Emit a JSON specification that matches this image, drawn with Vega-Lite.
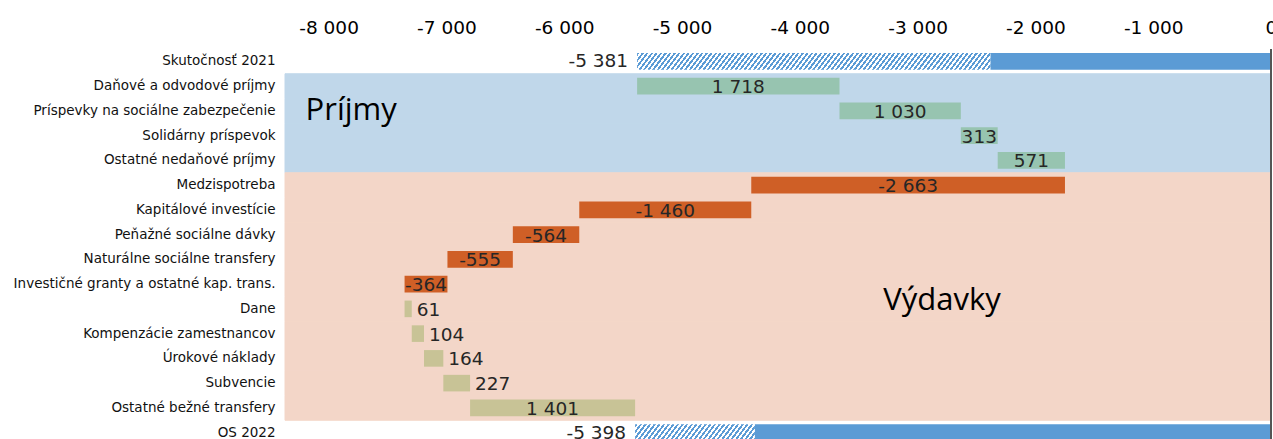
{
 "$schema": "https://vega.github.io/schema/vega-lite/v6.json",
 "autosize": "none",
 "width": 986,
 "height": 396,
 "padding": {"left": 285, "top": 49, "right": 2, "bottom": 0},
 "background": "#ffffff",
 "config": {
  "view": {"stroke": null},
  "locale": {"number": {"decimal": ",", "thousands": " ", "grouping": [3], "currency": ["", " €"], "minus": "-"}}
 },
 "resolve": {"scale": {"color": "independent", "stroke": "independent"}},
 "datasets": {
  "steps": [
   {"category": "Skutočnosť 2021", "section": "Súhrn", "kind": "total", "value": -5381, "start": 0, "end": -5381},
   {"category": "Daňové a odvodové  príjmy", "section": "Príjmy", "kind": "revenue", "value": 1718, "start": -5381, "end": -3663},
   {"category": "Príspevky na sociálne zabezpečenie", "section": "Príjmy", "kind": "revenue", "value": 1030, "start": -3663, "end": -2633},
   {"category": "Solidárny príspevok", "section": "Príjmy", "kind": "revenue", "value": 313, "start": -2633, "end": -2320},
   {"category": "Ostatné nedaňové príjmy", "section": "Príjmy", "kind": "revenue", "value": 571, "start": -2320, "end": -1749},
   {"category": "Medzispotreba", "section": "Výdavky", "kind": "expense", "value": -2663, "start": -1749, "end": -4412},
   {"category": "Kapitálové investície", "section": "Výdavky", "kind": "expense", "value": -1460, "start": -4412, "end": -5872},
   {"category": "Peňažné sociálne dávky", "section": "Výdavky", "kind": "expense", "value": -564, "start": -5872, "end": -6436},
   {"category": "Naturálne sociálne transfery", "section": "Výdavky", "kind": "expense", "value": -555, "start": -6436, "end": -6991},
   {"category": "Investičné granty a ostatné kap. trans.", "section": "Výdavky", "kind": "expense", "value": -364, "start": -6991, "end": -7355},
   {"category": "Dane", "section": "Výdavky", "kind": "reduction", "value": 61, "start": -7355, "end": -7294},
   {"category": "Kompenzácie zamestnancov", "section": "Výdavky", "kind": "reduction", "value": 104, "start": -7294, "end": -7190},
   {"category": "Úrokové náklady", "section": "Výdavky", "kind": "reduction", "value": 164, "start": -7190, "end": -7026},
   {"category": "Subvencie", "section": "Výdavky", "kind": "reduction", "value": 227, "start": -7026, "end": -6799},
   {"category": "Ostatné bežné transfery", "section": "Výdavky", "kind": "reduction", "value": 1401, "start": -6799, "end": -5398},
   {"category": "OS 2022", "section": "Súhrn", "kind": "total", "value": -5398, "start": 0, "end": -5398}
  ],
  "segments": [
   {"category": "Skutočnosť 2021", "part": "hatched", "from": -5381, "to": -2381},
   {"category": "Skutočnosť 2021", "part": "solid", "from": -2381, "to": 0},
   {"category": "OS 2022", "part": "hatched", "from": -5398, "to": -4381},
   {"category": "OS 2022", "part": "solid", "from": -4381, "to": 0}
  ]
 },
 "layer": [
  {
   "data": {"name": "steps"},
   "transform": [{"filter": "datum.kind != 'total'"}],
   "mark": {"type": "bar", "strokeWidth": 1},
   "encoding": {
    "x": {"datum": -8370, "type": "quantitative", "scale": {"domain": [-8370, 0], "nice": false, "zero": false},
     "axis": {"orient": "top", "title": null, "values": [-8000, -7000, -6000, -5000, -4000, -3000, -2000, -1000, 0], "format": ",.0f", "grid": false, "ticks": false, "domain": false, "labelPadding": 12, "labelFont": "DejaVu Sans", "labelFontSize": 18.5, "labelColor": "#000000", "labelFlush": false, "labelOverlap": false}},
    "x2": {"datum": 0},
    "y": {"field": "category", "type": "nominal", "sort": null,
     "scale": {"domain": ["Skutočnosť 2021", "Daňové a odvodové  príjmy", "Príspevky na sociálne zabezpečenie", "Solidárny príspevok", "Ostatné nedaňové príjmy", "Medzispotreba", "Kapitálové investície", "Peňažné sociálne dávky", "Naturálne sociálne transfery", "Investičné granty a ostatné kap. trans.", "Dane", "Kompenzácie zamestnancov", "Úrokové náklady", "Subvencie", "Ostatné bežné transfery", "OS 2022"], "paddingInner": 0, "paddingOuter": 0},
     "axis": {"title": null, "ticks": false, "domain": false, "grid": false, "labelPadding": 10, "labelFont": "DejaVu Sans", "labelFontSize": 13.5, "labelColor": "#111111", "labelLimit": 400}},
    "color": {"field": "section", "type": "nominal", "scale": {"domain": ["Príjmy", "Výdavky"], "range": ["#c0d7ea", "#f3d6c8"]}, "legend": null},
    "stroke": {"field": "section", "type": "nominal", "scale": {"domain": ["Príjmy", "Výdavky"], "range": ["#c0d7ea", "#f3d6c8"]}, "legend": null}
   }
  },
  {
   "data": {"name": "steps"},
   "transform": [{"filter": "datum.kind != 'total'"}],
   "mark": {"type": "bar", "height": {"band": 0.67}},
   "encoding": {
    "x": {"field": "start", "type": "quantitative", "scale": {"domain": [-8370, 0], "nice": false, "zero": false},
     "axis": {"orient": "top", "title": null, "values": [-8000, -7000, -6000, -5000, -4000, -3000, -2000, -1000, 0], "format": ",.0f", "grid": false, "ticks": false, "domain": false, "labelPadding": 12, "labelFont": "DejaVu Sans", "labelFontSize": 18.5, "labelColor": "#000000", "labelFlush": false, "labelOverlap": false}},
    "x2": {"field": "end"},
    "y": {"field": "category", "type": "nominal", "sort": null,
     "axis": {"title": null, "ticks": false, "domain": false, "grid": false, "labelPadding": 10, "labelFont": "DejaVu Sans", "labelFontSize": 13.5, "labelColor": "#111111", "labelLimit": 400}},
    "color": {"field": "kind", "type": "nominal", "scale": {"domain": ["revenue", "expense", "reduction"], "range": ["#97c4b0", "#cf5f26", "#c8c396"]}, "legend": null}
   }
  },
  {
   "data": {"name": "segments"},
   "transform": [{"filter": "datum.part == 'hatched' && datum.category == 'Skutočnosť 2021'"}],
   "mark": {"type": "bar", "height": {"band": 0.67}, "fill": {"gradient": "linear", "x1": 0, "y1": 0, "x2": 1.034, "y2": 0.0364, "stops": [
{"offset":0,"color":"#5b9bd5"},{"offset":0.00625,"color":"#5b9bd5"},{"offset":0.00625,"color":"#fff"},{"offset":0.0125,"color":"#fff"},{"offset":0.0125,"color":"#5b9bd5"},{"offset":0.01875,"color":"#5b9bd5"},{"offset":0.01875,"color":"#fff"},{"offset":0.025,"color":"#fff"},{"offset":0.025,"color":"#5b9bd5"},{"offset":0.03125,"color":"#5b9bd5"},{"offset":0.03125,"color":"#fff"},{"offset":0.0375,"color":"#fff"},{"offset":0.0375,"color":"#5b9bd5"},{"offset":0.04375,"color":"#5b9bd5"},{"offset":0.04375,"color":"#fff"},{"offset":0.05,"color":"#fff"},{"offset":0.05,"color":"#5b9bd5"},{"offset":0.05625,"color":"#5b9bd5"},{"offset":0.05625,"color":"#fff"},{"offset":0.0625,"color":"#fff"},{"offset":0.0625,"color":"#5b9bd5"},{"offset":0.06875,"color":"#5b9bd5"},{"offset":0.06875,"color":"#fff"},{"offset":0.075,"color":"#fff"},{"offset":0.075,"color":"#5b9bd5"},{"offset":0.08125,"color":"#5b9bd5"},{"offset":0.08125,"color":"#fff"},{"offset":0.0875,"color":"#fff"},{"offset":0.0875,"color":"#5b9bd5"},{"offset":0.09375,"color":"#5b9bd5"},{"offset":0.09375,"color":"#fff"},{"offset":0.1,"color":"#fff"},
{"offset":0.1,"color":"#5b9bd5"},{"offset":0.10625,"color":"#5b9bd5"},{"offset":0.10625,"color":"#fff"},{"offset":0.1125,"color":"#fff"},{"offset":0.1125,"color":"#5b9bd5"},{"offset":0.11875,"color":"#5b9bd5"},{"offset":0.11875,"color":"#fff"},{"offset":0.125,"color":"#fff"},{"offset":0.125,"color":"#5b9bd5"},{"offset":0.13125,"color":"#5b9bd5"},{"offset":0.13125,"color":"#fff"},{"offset":0.1375,"color":"#fff"},{"offset":0.1375,"color":"#5b9bd5"},{"offset":0.14375,"color":"#5b9bd5"},{"offset":0.14375,"color":"#fff"},{"offset":0.15,"color":"#fff"},{"offset":0.15,"color":"#5b9bd5"},{"offset":0.15625,"color":"#5b9bd5"},{"offset":0.15625,"color":"#fff"},{"offset":0.1625,"color":"#fff"},{"offset":0.1625,"color":"#5b9bd5"},{"offset":0.16875,"color":"#5b9bd5"},{"offset":0.16875,"color":"#fff"},{"offset":0.175,"color":"#fff"},{"offset":0.175,"color":"#5b9bd5"},{"offset":0.18125,"color":"#5b9bd5"},{"offset":0.18125,"color":"#fff"},{"offset":0.1875,"color":"#fff"},{"offset":0.1875,"color":"#5b9bd5"},{"offset":0.19375,"color":"#5b9bd5"},{"offset":0.19375,"color":"#fff"},{"offset":0.2,"color":"#fff"},
{"offset":0.2,"color":"#5b9bd5"},{"offset":0.20625,"color":"#5b9bd5"},{"offset":0.20625,"color":"#fff"},{"offset":0.2125,"color":"#fff"},{"offset":0.2125,"color":"#5b9bd5"},{"offset":0.21875,"color":"#5b9bd5"},{"offset":0.21875,"color":"#fff"},{"offset":0.225,"color":"#fff"},{"offset":0.225,"color":"#5b9bd5"},{"offset":0.23125,"color":"#5b9bd5"},{"offset":0.23125,"color":"#fff"},{"offset":0.2375,"color":"#fff"},{"offset":0.2375,"color":"#5b9bd5"},{"offset":0.24375,"color":"#5b9bd5"},{"offset":0.24375,"color":"#fff"},{"offset":0.25,"color":"#fff"},{"offset":0.25,"color":"#5b9bd5"},{"offset":0.25625,"color":"#5b9bd5"},{"offset":0.25625,"color":"#fff"},{"offset":0.2625,"color":"#fff"},{"offset":0.2625,"color":"#5b9bd5"},{"offset":0.26875,"color":"#5b9bd5"},{"offset":0.26875,"color":"#fff"},{"offset":0.275,"color":"#fff"},{"offset":0.275,"color":"#5b9bd5"},{"offset":0.28125,"color":"#5b9bd5"},{"offset":0.28125,"color":"#fff"},{"offset":0.2875,"color":"#fff"},{"offset":0.2875,"color":"#5b9bd5"},{"offset":0.29375,"color":"#5b9bd5"},{"offset":0.29375,"color":"#fff"},{"offset":0.3,"color":"#fff"},
{"offset":0.3,"color":"#5b9bd5"},{"offset":0.30625,"color":"#5b9bd5"},{"offset":0.30625,"color":"#fff"},{"offset":0.3125,"color":"#fff"},{"offset":0.3125,"color":"#5b9bd5"},{"offset":0.31875,"color":"#5b9bd5"},{"offset":0.31875,"color":"#fff"},{"offset":0.325,"color":"#fff"},{"offset":0.325,"color":"#5b9bd5"},{"offset":0.33125,"color":"#5b9bd5"},{"offset":0.33125,"color":"#fff"},{"offset":0.3375,"color":"#fff"},{"offset":0.3375,"color":"#5b9bd5"},{"offset":0.34375,"color":"#5b9bd5"},{"offset":0.34375,"color":"#fff"},{"offset":0.35,"color":"#fff"},{"offset":0.35,"color":"#5b9bd5"},{"offset":0.35625,"color":"#5b9bd5"},{"offset":0.35625,"color":"#fff"},{"offset":0.3625,"color":"#fff"},{"offset":0.3625,"color":"#5b9bd5"},{"offset":0.36875,"color":"#5b9bd5"},{"offset":0.36875,"color":"#fff"},{"offset":0.375,"color":"#fff"},{"offset":0.375,"color":"#5b9bd5"},{"offset":0.38125,"color":"#5b9bd5"},{"offset":0.38125,"color":"#fff"},{"offset":0.3875,"color":"#fff"},{"offset":0.3875,"color":"#5b9bd5"},{"offset":0.39375,"color":"#5b9bd5"},{"offset":0.39375,"color":"#fff"},{"offset":0.4,"color":"#fff"},
{"offset":0.4,"color":"#5b9bd5"},{"offset":0.40625,"color":"#5b9bd5"},{"offset":0.40625,"color":"#fff"},{"offset":0.4125,"color":"#fff"},{"offset":0.4125,"color":"#5b9bd5"},{"offset":0.41875,"color":"#5b9bd5"},{"offset":0.41875,"color":"#fff"},{"offset":0.425,"color":"#fff"},{"offset":0.425,"color":"#5b9bd5"},{"offset":0.43125,"color":"#5b9bd5"},{"offset":0.43125,"color":"#fff"},{"offset":0.4375,"color":"#fff"},{"offset":0.4375,"color":"#5b9bd5"},{"offset":0.44375,"color":"#5b9bd5"},{"offset":0.44375,"color":"#fff"},{"offset":0.45,"color":"#fff"},{"offset":0.45,"color":"#5b9bd5"},{"offset":0.45625,"color":"#5b9bd5"},{"offset":0.45625,"color":"#fff"},{"offset":0.4625,"color":"#fff"},{"offset":0.4625,"color":"#5b9bd5"},{"offset":0.46875,"color":"#5b9bd5"},{"offset":0.46875,"color":"#fff"},{"offset":0.475,"color":"#fff"},{"offset":0.475,"color":"#5b9bd5"},{"offset":0.48125,"color":"#5b9bd5"},{"offset":0.48125,"color":"#fff"},{"offset":0.4875,"color":"#fff"},{"offset":0.4875,"color":"#5b9bd5"},{"offset":0.49375,"color":"#5b9bd5"},{"offset":0.49375,"color":"#fff"},{"offset":0.5,"color":"#fff"},
{"offset":0.5,"color":"#5b9bd5"},{"offset":0.50625,"color":"#5b9bd5"},{"offset":0.50625,"color":"#fff"},{"offset":0.5125,"color":"#fff"},{"offset":0.5125,"color":"#5b9bd5"},{"offset":0.51875,"color":"#5b9bd5"},{"offset":0.51875,"color":"#fff"},{"offset":0.525,"color":"#fff"},{"offset":0.525,"color":"#5b9bd5"},{"offset":0.53125,"color":"#5b9bd5"},{"offset":0.53125,"color":"#fff"},{"offset":0.5375,"color":"#fff"},{"offset":0.5375,"color":"#5b9bd5"},{"offset":0.54375,"color":"#5b9bd5"},{"offset":0.54375,"color":"#fff"},{"offset":0.55,"color":"#fff"},{"offset":0.55,"color":"#5b9bd5"},{"offset":0.55625,"color":"#5b9bd5"},{"offset":0.55625,"color":"#fff"},{"offset":0.5625,"color":"#fff"},{"offset":0.5625,"color":"#5b9bd5"},{"offset":0.56875,"color":"#5b9bd5"},{"offset":0.56875,"color":"#fff"},{"offset":0.575,"color":"#fff"},{"offset":0.575,"color":"#5b9bd5"},{"offset":0.58125,"color":"#5b9bd5"},{"offset":0.58125,"color":"#fff"},{"offset":0.5875,"color":"#fff"},{"offset":0.5875,"color":"#5b9bd5"},{"offset":0.59375,"color":"#5b9bd5"},{"offset":0.59375,"color":"#fff"},{"offset":0.6,"color":"#fff"},
{"offset":0.6,"color":"#5b9bd5"},{"offset":0.60625,"color":"#5b9bd5"},{"offset":0.60625,"color":"#fff"},{"offset":0.6125,"color":"#fff"},{"offset":0.6125,"color":"#5b9bd5"},{"offset":0.61875,"color":"#5b9bd5"},{"offset":0.61875,"color":"#fff"},{"offset":0.625,"color":"#fff"},{"offset":0.625,"color":"#5b9bd5"},{"offset":0.63125,"color":"#5b9bd5"},{"offset":0.63125,"color":"#fff"},{"offset":0.6375,"color":"#fff"},{"offset":0.6375,"color":"#5b9bd5"},{"offset":0.64375,"color":"#5b9bd5"},{"offset":0.64375,"color":"#fff"},{"offset":0.65,"color":"#fff"},{"offset":0.65,"color":"#5b9bd5"},{"offset":0.65625,"color":"#5b9bd5"},{"offset":0.65625,"color":"#fff"},{"offset":0.6625,"color":"#fff"},{"offset":0.6625,"color":"#5b9bd5"},{"offset":0.66875,"color":"#5b9bd5"},{"offset":0.66875,"color":"#fff"},{"offset":0.675,"color":"#fff"},{"offset":0.675,"color":"#5b9bd5"},{"offset":0.68125,"color":"#5b9bd5"},{"offset":0.68125,"color":"#fff"},{"offset":0.6875,"color":"#fff"},{"offset":0.6875,"color":"#5b9bd5"},{"offset":0.69375,"color":"#5b9bd5"},{"offset":0.69375,"color":"#fff"},{"offset":0.7,"color":"#fff"},
{"offset":0.7,"color":"#5b9bd5"},{"offset":0.70625,"color":"#5b9bd5"},{"offset":0.70625,"color":"#fff"},{"offset":0.7125,"color":"#fff"},{"offset":0.7125,"color":"#5b9bd5"},{"offset":0.71875,"color":"#5b9bd5"},{"offset":0.71875,"color":"#fff"},{"offset":0.725,"color":"#fff"},{"offset":0.725,"color":"#5b9bd5"},{"offset":0.73125,"color":"#5b9bd5"},{"offset":0.73125,"color":"#fff"},{"offset":0.7375,"color":"#fff"},{"offset":0.7375,"color":"#5b9bd5"},{"offset":0.74375,"color":"#5b9bd5"},{"offset":0.74375,"color":"#fff"},{"offset":0.75,"color":"#fff"},{"offset":0.75,"color":"#5b9bd5"},{"offset":0.75625,"color":"#5b9bd5"},{"offset":0.75625,"color":"#fff"},{"offset":0.7625,"color":"#fff"},{"offset":0.7625,"color":"#5b9bd5"},{"offset":0.76875,"color":"#5b9bd5"},{"offset":0.76875,"color":"#fff"},{"offset":0.775,"color":"#fff"},{"offset":0.775,"color":"#5b9bd5"},{"offset":0.78125,"color":"#5b9bd5"},{"offset":0.78125,"color":"#fff"},{"offset":0.7875,"color":"#fff"},{"offset":0.7875,"color":"#5b9bd5"},{"offset":0.79375,"color":"#5b9bd5"},{"offset":0.79375,"color":"#fff"},{"offset":0.8,"color":"#fff"},
{"offset":0.8,"color":"#5b9bd5"},{"offset":0.80625,"color":"#5b9bd5"},{"offset":0.80625,"color":"#fff"},{"offset":0.8125,"color":"#fff"},{"offset":0.8125,"color":"#5b9bd5"},{"offset":0.81875,"color":"#5b9bd5"},{"offset":0.81875,"color":"#fff"},{"offset":0.825,"color":"#fff"},{"offset":0.825,"color":"#5b9bd5"},{"offset":0.83125,"color":"#5b9bd5"},{"offset":0.83125,"color":"#fff"},{"offset":0.8375,"color":"#fff"},{"offset":0.8375,"color":"#5b9bd5"},{"offset":0.84375,"color":"#5b9bd5"},{"offset":0.84375,"color":"#fff"},{"offset":0.85,"color":"#fff"},{"offset":0.85,"color":"#5b9bd5"},{"offset":0.85625,"color":"#5b9bd5"},{"offset":0.85625,"color":"#fff"},{"offset":0.8625,"color":"#fff"},{"offset":0.8625,"color":"#5b9bd5"},{"offset":0.86875,"color":"#5b9bd5"},{"offset":0.86875,"color":"#fff"},{"offset":0.875,"color":"#fff"},{"offset":0.875,"color":"#5b9bd5"},{"offset":0.88125,"color":"#5b9bd5"},{"offset":0.88125,"color":"#fff"},{"offset":0.8875,"color":"#fff"},{"offset":0.8875,"color":"#5b9bd5"},{"offset":0.89375,"color":"#5b9bd5"},{"offset":0.89375,"color":"#fff"},{"offset":0.9,"color":"#fff"},
{"offset":0.9,"color":"#5b9bd5"},{"offset":0.90625,"color":"#5b9bd5"},{"offset":0.90625,"color":"#fff"},{"offset":0.9125,"color":"#fff"},{"offset":0.9125,"color":"#5b9bd5"},{"offset":0.91875,"color":"#5b9bd5"},{"offset":0.91875,"color":"#fff"},{"offset":0.925,"color":"#fff"},{"offset":0.925,"color":"#5b9bd5"},{"offset":0.93125,"color":"#5b9bd5"},{"offset":0.93125,"color":"#fff"},{"offset":0.9375,"color":"#fff"},{"offset":0.9375,"color":"#5b9bd5"},{"offset":0.94375,"color":"#5b9bd5"},{"offset":0.94375,"color":"#fff"},{"offset":0.95,"color":"#fff"},{"offset":0.95,"color":"#5b9bd5"},{"offset":0.95625,"color":"#5b9bd5"},{"offset":0.95625,"color":"#fff"},{"offset":0.9625,"color":"#fff"},{"offset":0.9625,"color":"#5b9bd5"},{"offset":0.96875,"color":"#5b9bd5"},{"offset":0.96875,"color":"#fff"},{"offset":0.975,"color":"#fff"},{"offset":0.975,"color":"#5b9bd5"},{"offset":0.98125,"color":"#5b9bd5"},{"offset":0.98125,"color":"#fff"},{"offset":0.9875,"color":"#fff"},{"offset":0.9875,"color":"#5b9bd5"},{"offset":0.99375,"color":"#5b9bd5"},{"offset":0.99375,"color":"#fff"},{"offset":1,"color":"#fff"}
   ]}},
   "encoding": {
    "x": {"field": "from", "type": "quantitative", "scale": {"domain": [-8370, 0], "nice": false, "zero": false},
     "axis": {"orient": "top", "title": null, "values": [-8000, -7000, -6000, -5000, -4000, -3000, -2000, -1000, 0], "format": ",.0f", "grid": false, "ticks": false, "domain": false, "labelPadding": 12, "labelFont": "DejaVu Sans", "labelFontSize": 18.5, "labelColor": "#000000", "labelFlush": false, "labelOverlap": false}},
    "x2": {"field": "to"},
    "y": {"field": "category", "type": "nominal", "sort": null,
     "axis": {"title": null, "ticks": false, "domain": false, "grid": false, "labelPadding": 10, "labelFont": "DejaVu Sans", "labelFontSize": 13.5, "labelColor": "#111111", "labelLimit": 400}}
   }
  },
  {
   "data": {"name": "segments"},
   "transform": [{"filter": "datum.part == 'hatched' && datum.category == 'OS 2022'"}],
   "mark": {"type": "bar", "height": {"band": 0.67}, "fill": {"gradient": "linear", "x1": 0, "y1": 0, "x2": 1.0922, "y2": 0.1136, "stops": [
{"offset":0,"color":"#5b9bd5"},{"offset":0.0175,"color":"#5b9bd5"},{"offset":0.0175,"color":"#fff"},{"offset":0.035,"color":"#fff"},
{"offset":0.035,"color":"#5b9bd5"},{"offset":0.0525,"color":"#5b9bd5"},{"offset":0.0525,"color":"#fff"},{"offset":0.07,"color":"#fff"},
{"offset":0.07,"color":"#5b9bd5"},{"offset":0.0875,"color":"#5b9bd5"},{"offset":0.0875,"color":"#fff"},{"offset":0.105,"color":"#fff"},
{"offset":0.105,"color":"#5b9bd5"},{"offset":0.1225,"color":"#5b9bd5"},{"offset":0.1225,"color":"#fff"},{"offset":0.14,"color":"#fff"},
{"offset":0.14,"color":"#5b9bd5"},{"offset":0.1575,"color":"#5b9bd5"},{"offset":0.1575,"color":"#fff"},{"offset":0.175,"color":"#fff"},
{"offset":0.175,"color":"#5b9bd5"},{"offset":0.1925,"color":"#5b9bd5"},{"offset":0.1925,"color":"#fff"},{"offset":0.21,"color":"#fff"},
{"offset":0.21,"color":"#5b9bd5"},{"offset":0.2275,"color":"#5b9bd5"},{"offset":0.2275,"color":"#fff"},{"offset":0.245,"color":"#fff"},
{"offset":0.245,"color":"#5b9bd5"},{"offset":0.2625,"color":"#5b9bd5"},{"offset":0.2625,"color":"#fff"},{"offset":0.28,"color":"#fff"},
{"offset":0.28,"color":"#5b9bd5"},{"offset":0.2975,"color":"#5b9bd5"},{"offset":0.2975,"color":"#fff"},{"offset":0.315,"color":"#fff"},
{"offset":0.315,"color":"#5b9bd5"},{"offset":0.3325,"color":"#5b9bd5"},{"offset":0.3325,"color":"#fff"},{"offset":0.35,"color":"#fff"},
{"offset":0.35,"color":"#5b9bd5"},{"offset":0.3675,"color":"#5b9bd5"},{"offset":0.3675,"color":"#fff"},{"offset":0.385,"color":"#fff"},
{"offset":0.385,"color":"#5b9bd5"},{"offset":0.4025,"color":"#5b9bd5"},{"offset":0.4025,"color":"#fff"},{"offset":0.42,"color":"#fff"},
{"offset":0.42,"color":"#5b9bd5"},{"offset":0.4375,"color":"#5b9bd5"},{"offset":0.4375,"color":"#fff"},{"offset":0.455,"color":"#fff"},
{"offset":0.455,"color":"#5b9bd5"},{"offset":0.4725,"color":"#5b9bd5"},{"offset":0.4725,"color":"#fff"},{"offset":0.49,"color":"#fff"},
{"offset":0.49,"color":"#5b9bd5"},{"offset":0.5075,"color":"#5b9bd5"},{"offset":0.5075,"color":"#fff"},{"offset":0.525,"color":"#fff"},
{"offset":0.525,"color":"#5b9bd5"},{"offset":0.5425,"color":"#5b9bd5"},{"offset":0.5425,"color":"#fff"},{"offset":0.56,"color":"#fff"},
{"offset":0.56,"color":"#5b9bd5"},{"offset":0.5775,"color":"#5b9bd5"},{"offset":0.5775,"color":"#fff"},{"offset":0.595,"color":"#fff"},
{"offset":0.595,"color":"#5b9bd5"},{"offset":0.6125,"color":"#5b9bd5"},{"offset":0.6125,"color":"#fff"},{"offset":0.63,"color":"#fff"},
{"offset":0.63,"color":"#5b9bd5"},{"offset":0.6475,"color":"#5b9bd5"},{"offset":0.6475,"color":"#fff"},{"offset":0.665,"color":"#fff"},
{"offset":0.665,"color":"#5b9bd5"},{"offset":0.6825,"color":"#5b9bd5"},{"offset":0.6825,"color":"#fff"},{"offset":0.7,"color":"#fff"},
{"offset":0.7,"color":"#5b9bd5"},{"offset":0.7175,"color":"#5b9bd5"},{"offset":0.7175,"color":"#fff"},{"offset":0.735,"color":"#fff"},
{"offset":0.735,"color":"#5b9bd5"},{"offset":0.7525,"color":"#5b9bd5"},{"offset":0.7525,"color":"#fff"},{"offset":0.77,"color":"#fff"},
{"offset":0.77,"color":"#5b9bd5"},{"offset":0.7875,"color":"#5b9bd5"},{"offset":0.7875,"color":"#fff"},{"offset":0.805,"color":"#fff"},
{"offset":0.805,"color":"#5b9bd5"},{"offset":0.8225,"color":"#5b9bd5"},{"offset":0.8225,"color":"#fff"},{"offset":0.84,"color":"#fff"},
{"offset":0.84,"color":"#5b9bd5"},{"offset":0.8575,"color":"#5b9bd5"},{"offset":0.8575,"color":"#fff"},{"offset":0.875,"color":"#fff"},
{"offset":0.875,"color":"#5b9bd5"},{"offset":0.8925,"color":"#5b9bd5"},{"offset":0.8925,"color":"#fff"},{"offset":0.91,"color":"#fff"},
{"offset":0.91,"color":"#5b9bd5"},{"offset":0.9275,"color":"#5b9bd5"},{"offset":0.9275,"color":"#fff"},{"offset":0.945,"color":"#fff"},
{"offset":0.945,"color":"#5b9bd5"},{"offset":0.9625,"color":"#5b9bd5"},{"offset":0.9625,"color":"#fff"},{"offset":0.98,"color":"#fff"},
{"offset":0.98,"color":"#5b9bd5"},{"offset":0.9975,"color":"#5b9bd5"},{"offset":0.9975,"color":"#fff"},{"offset":1,"color":"#fff"}
   ]}},
   "encoding": {
    "x": {"field": "from", "type": "quantitative", "scale": {"domain": [-8370, 0], "nice": false, "zero": false},
     "axis": {"orient": "top", "title": null, "values": [-8000, -7000, -6000, -5000, -4000, -3000, -2000, -1000, 0], "format": ",.0f", "grid": false, "ticks": false, "domain": false, "labelPadding": 12, "labelFont": "DejaVu Sans", "labelFontSize": 18.5, "labelColor": "#000000", "labelFlush": false, "labelOverlap": false}},
    "x2": {"field": "to"},
    "y": {"field": "category", "type": "nominal", "sort": null,
     "axis": {"title": null, "ticks": false, "domain": false, "grid": false, "labelPadding": 10, "labelFont": "DejaVu Sans", "labelFontSize": 13.5, "labelColor": "#111111", "labelLimit": 400}}
   }
  },
  {
   "data": {"name": "segments"},
   "transform": [{"filter": "datum.part == 'solid'"}],
   "mark": {"type": "bar", "height": {"band": 0.67}, "color": "#5b9bd5"},
   "encoding": {
    "x": {"field": "from", "type": "quantitative", "scale": {"domain": [-8370, 0], "nice": false, "zero": false},
     "axis": {"orient": "top", "title": null, "values": [-8000, -7000, -6000, -5000, -4000, -3000, -2000, -1000, 0], "format": ",.0f", "grid": false, "ticks": false, "domain": false, "labelPadding": 12, "labelFont": "DejaVu Sans", "labelFontSize": 18.5, "labelColor": "#000000", "labelFlush": false, "labelOverlap": false}},
    "x2": {"field": "to"},
    "y": {"field": "category", "type": "nominal", "sort": null,
     "axis": {"title": null, "ticks": false, "domain": false, "grid": false, "labelPadding": 10, "labelFont": "DejaVu Sans", "labelFontSize": 13.5, "labelColor": "#111111", "labelLimit": 400}}
   }
  },
  {
   "data": {"values": [{"line": "os"}]},
   "mark": {"type": "rule", "color": "#555555", "strokeWidth": 2},
   "encoding": {
    "x": {"datum": 0, "type": "quantitative", "scale": {"domain": [-8370, 0], "nice": false, "zero": false},
     "axis": {"orient": "top", "title": null, "values": [-8000, -7000, -6000, -5000, -4000, -3000, -2000, -1000, 0], "format": ",.0f", "grid": false, "ticks": false, "domain": false, "labelPadding": 12, "labelFont": "DejaVu Sans", "labelFontSize": 18.5, "labelColor": "#000000", "labelFlush": false, "labelOverlap": false}}
   }
  },
  {
   "data": {"name": "steps"},
   "transform": [
    {"filter": "datum.kind != 'total' && (datum.kind != 'reduction' || datum.value >= 1000)"},
    {"fold": ["start", "end"], "as": ["edge", "pos"]},
    {"aggregate": [{"op": "mean", "field": "pos", "as": "mid"}], "groupby": ["category", "value"]}
   ],
   "mark": {"type": "text", "font": "DejaVu Sans", "fontSize": 18.5, "color": "#262626", "baseline": "middle", "align": "center", "dy": 1},
   "encoding": {
    "x": {"field": "mid", "type": "quantitative", "scale": {"domain": [-8370, 0], "nice": false, "zero": false},
     "axis": {"orient": "top", "title": null, "values": [-8000, -7000, -6000, -5000, -4000, -3000, -2000, -1000, 0], "format": ",.0f", "grid": false, "ticks": false, "domain": false, "labelPadding": 12, "labelFont": "DejaVu Sans", "labelFontSize": 18.5, "labelColor": "#000000", "labelFlush": false, "labelOverlap": false}},
    "y": {"field": "category", "type": "nominal", "sort": null,
     "axis": {"title": null, "ticks": false, "domain": false, "grid": false, "labelPadding": 10, "labelFont": "DejaVu Sans", "labelFontSize": 13.5, "labelColor": "#111111", "labelLimit": 400}},
    "text": {"field": "value", "type": "quantitative", "format": ",.0f"}
   }
  },
  {
   "data": {"name": "steps"},
   "transform": [{"filter": "datum.kind == 'reduction' && datum.value < 1000"}],
   "mark": {"type": "text", "font": "DejaVu Sans", "fontSize": 18.5, "color": "#262626", "baseline": "middle", "align": "left", "dx": 5, "dy": 1},
   "encoding": {
    "x": {"field": "end", "type": "quantitative", "scale": {"domain": [-8370, 0], "nice": false, "zero": false},
     "axis": {"orient": "top", "title": null, "values": [-8000, -7000, -6000, -5000, -4000, -3000, -2000, -1000, 0], "format": ",.0f", "grid": false, "ticks": false, "domain": false, "labelPadding": 12, "labelFont": "DejaVu Sans", "labelFontSize": 18.5, "labelColor": "#000000", "labelFlush": false, "labelOverlap": false}},
    "y": {"field": "category", "type": "nominal", "sort": null,
     "axis": {"title": null, "ticks": false, "domain": false, "grid": false, "labelPadding": 10, "labelFont": "DejaVu Sans", "labelFontSize": 13.5, "labelColor": "#111111", "labelLimit": 400}},
    "text": {"field": "value", "type": "quantitative", "format": ",.0f"}
   }
  },
  {
   "data": {"name": "steps"},
   "transform": [{"filter": "datum.kind == 'total'"}],
   "mark": {"type": "text", "font": "DejaVu Sans", "fontSize": 18.5, "color": "#262626", "baseline": "middle", "align": "right", "dx": -9, "dy": 0},
   "encoding": {
    "x": {"field": "end", "type": "quantitative", "scale": {"domain": [-8370, 0], "nice": false, "zero": false},
     "axis": {"orient": "top", "title": null, "values": [-8000, -7000, -6000, -5000, -4000, -3000, -2000, -1000, 0], "format": ",.0f", "grid": false, "ticks": false, "domain": false, "labelPadding": 12, "labelFont": "DejaVu Sans", "labelFontSize": 18.5, "labelColor": "#000000", "labelFlush": false, "labelOverlap": false}},
    "y": {"field": "category", "type": "nominal", "sort": null,
     "axis": {"title": null, "ticks": false, "domain": false, "grid": false, "labelPadding": 10, "labelFont": "DejaVu Sans", "labelFontSize": 13.5, "labelColor": "#111111", "labelLimit": 400}},
    "text": {"field": "value", "type": "quantitative", "format": ",.0f"}
   }
  },
  {
   "data": {"values": [{"note": "Príjmy"}]},
   "mark": {"type": "text", "font": "Open Sans", "fontSize": 31, "color": "#000000", "baseline": "middle", "align": "left"},
   "encoding": {
    "x": {"datum": -8195, "type": "quantitative", "scale": {"domain": [-8370, 0], "nice": false, "zero": false},
     "axis": {"orient": "top", "title": null, "values": [-8000, -7000, -6000, -5000, -4000, -3000, -2000, -1000, 0], "format": ",.0f", "grid": false, "ticks": false, "domain": false, "labelPadding": 12, "labelFont": "DejaVu Sans", "labelFontSize": 18.5, "labelColor": "#000000", "labelFlush": false, "labelOverlap": false}},
    "y": {"datum": "Príspevky na sociálne zabezpečenie", "type": "nominal",
     "axis": {"title": null, "ticks": false, "domain": false, "grid": false, "labelPadding": 10, "labelFont": "DejaVu Sans", "labelFontSize": 13.5, "labelColor": "#111111", "labelLimit": 400}},
    "text": {"field": "note"}
   }
  },
  {
   "data": {"values": [{"note": "Výdavky"}]},
   "mark": {"type": "text", "font": "Open Sans", "fontSize": 31, "color": "#000000", "baseline": "middle", "align": "center", "dy": -8},
   "encoding": {
    "x": {"datum": -2793, "type": "quantitative", "scale": {"domain": [-8370, 0], "nice": false, "zero": false},
     "axis": {"orient": "top", "title": null, "values": [-8000, -7000, -6000, -5000, -4000, -3000, -2000, -1000, 0], "format": ",.0f", "grid": false, "ticks": false, "domain": false, "labelPadding": 12, "labelFont": "DejaVu Sans", "labelFontSize": 18.5, "labelColor": "#000000", "labelFlush": false, "labelOverlap": false}},
    "y": {"datum": "Dane", "type": "nominal",
     "axis": {"title": null, "ticks": false, "domain": false, "grid": false, "labelPadding": 10, "labelFont": "DejaVu Sans", "labelFontSize": 13.5, "labelColor": "#111111", "labelLimit": 400}},
    "text": {"field": "note"}
   }
  }
 ]
}
